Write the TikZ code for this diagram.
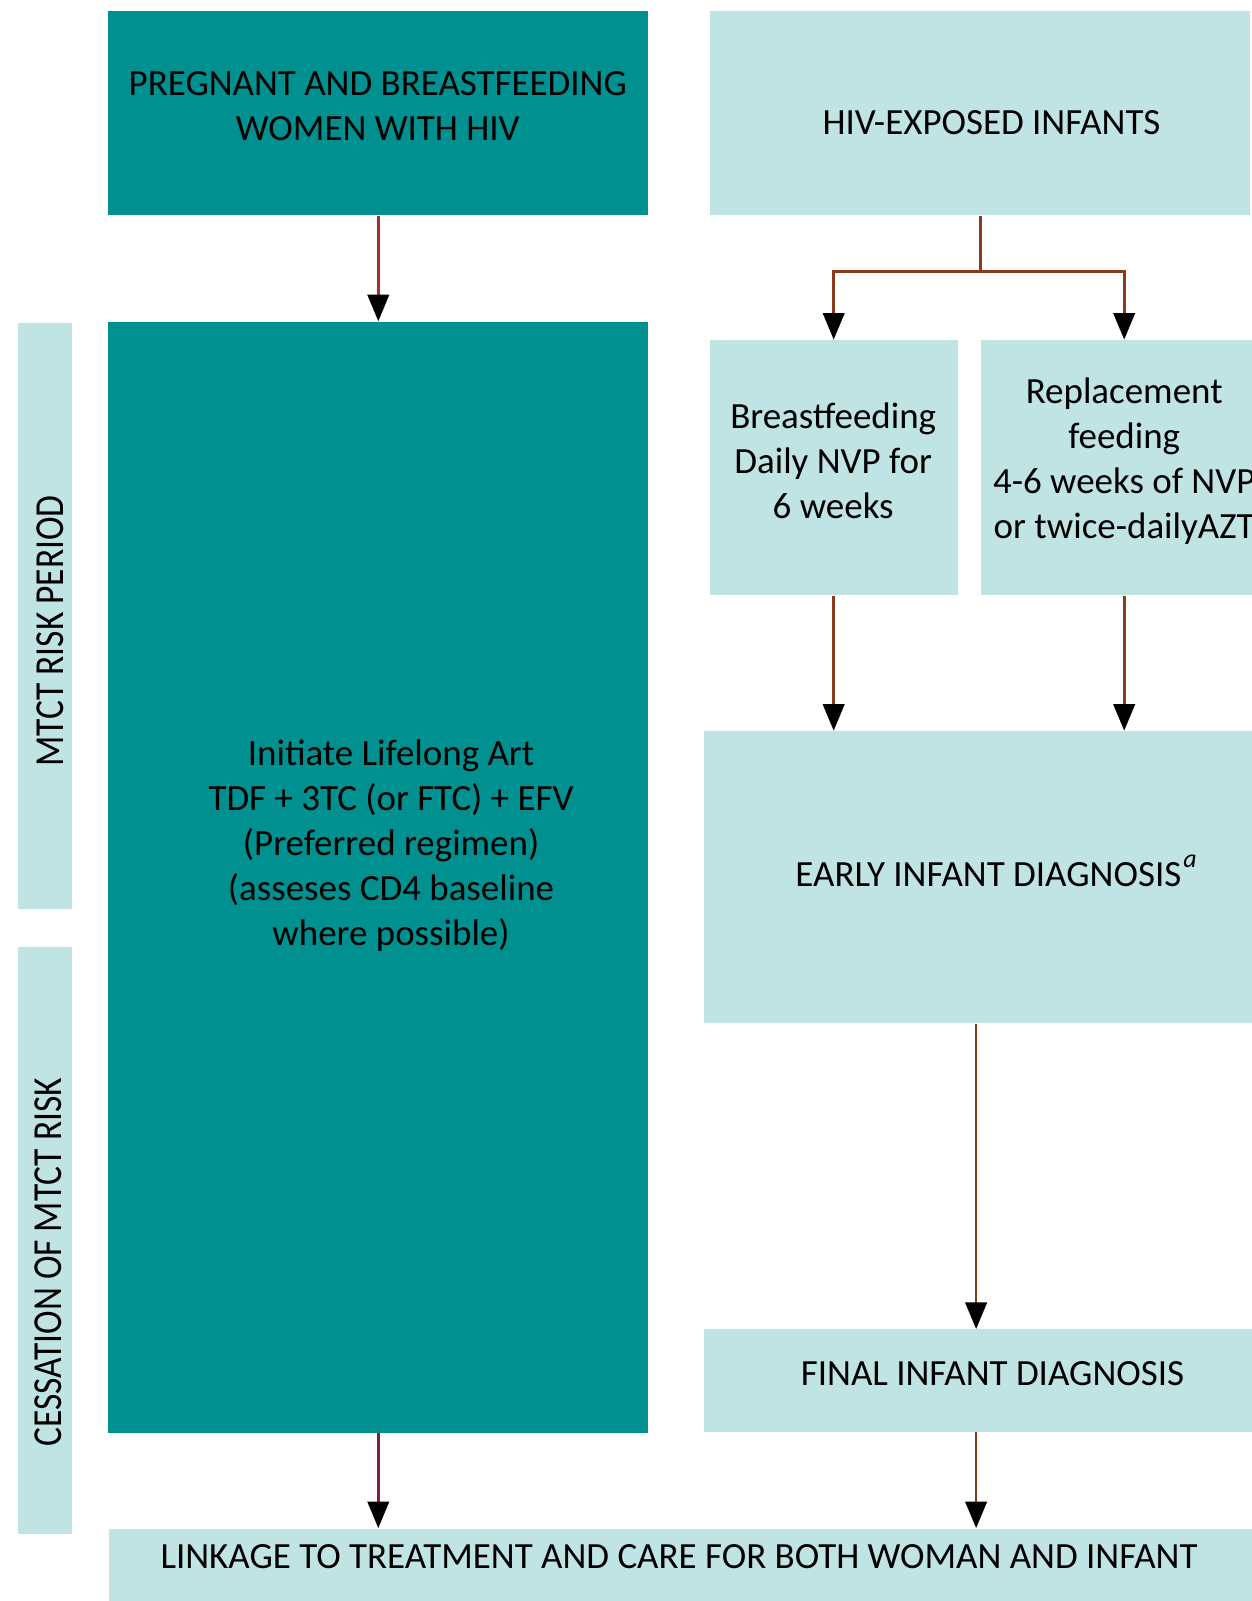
\documentclass[tikz,border=0pt]{standalone}
\usepackage{fontspec}
\setmainfont{Carlito}
\usetikzlibrary{arrows.meta,fit}
\definecolor{darkteal}{RGB}{0,144,144}
\definecolor{lightteal}{RGB}{192,228,228}
\definecolor{redline}{RGB}{165,48,42}
\definecolor{brownline}{RGB}{140,58,30}
\definecolor{maroonline}{RGB}{128,30,60}
\begin{document}
\begin{tikzpicture}[x=0.5pt,y=-0.5pt,
  darkbox/.style={fit={#1},inner sep=0pt,fill=darkteal,draw=none},
  lightbox/.style={fit={#1},inner sep=0pt,fill=lightteal,draw=none},
  txt/.style={align=center,inner sep=0pt,font=\fontsize{18.1}{22}\selectfont},
  sidetxt/.style={rotate=90,inner sep=0pt,font=\fontsize{20.2}{24}\selectfont},
  arr/.style={line width=1.3pt,-{Triangle[length=13pt,width=10.5pt,color=black]}},
  plain/.style={line width=1.3pt}]
\useasboundingbox (0,0) rectangle (1226,1568);
\clip (0,0) rectangle (1226,1568);
% boxes
\node[darkbox={(106,11) (635,211)}] (tl) {};
\node[lightbox={(695,11) (1224,211)}] (tr) {};
\node[darkbox={(106,315) (635,1403)}] (big) {};
\node[lightbox={(18,316) (71,890)}] (side1) {};
\node[lightbox={(18,927) (71,1502)}] (side2) {};
\node[lightbox={(695,333) (938,583)}] (bf) {};
\node[lightbox={(961,333) (1241,583)}] (rf) {};
\node[lightbox={(689,716) (1260,1002)}] (eid) {};
\node[lightbox={(689,1302) (1260,1402)}] (fin) {};
\node[lightbox={(107,1497) (1260,1590)}] (link) {};
% texts
\node[txt] (tltxt) at (370,104) {PREGNANT AND BREASTFEEDING\\WOMEN WITH HIV};
\node[txt] (trtxt) at (971,120) {HIV-EXPOSED INFANTS};
\node[txt] (bigtxt) at (383,828) {Initiate Lifelong Art\\TDF + 3TC (or FTC) + EFV\\(Preferred regimen)\\(asseses CD4 baseline\\where possible)};
\node[sidetxt] (s1txt) at (49,618) {\scalebox{0.86}[1]{MTCT RISK PERIOD}};
\node[sidetxt] (s2txt) at (47,1236) {\scalebox{0.86}[1]{CESSATION OF MTCT RISK}};
\node[txt] (bftxt) at (816,451) {Breastfeeding\\Daily NVP for\\6 weeks};
\node[txt] (rftxt) at (1101,452) {Replacement\\feeding\\4-6 weeks of NVP\\or twice-dailyAZT};
\node[txt] (eidtxt) at (976,853) {EARLY INFANT DIAGNOSIS\kern1pt\raisebox{0.15em}{\textsuperscript{\itshape a}}};
\node[txt] (fintxt) at (972,1345) {FINAL INFANT DIAGNOSIS};
\node[txt] (linktxt) at (665,1525) {LINKAGE TO TREATMENT AND CARE FOR BOTH WOMAN AND INFANT};
% connectors
\coordinate (split) at (960,266);
\coordinate (midx) at (956,0);
\draw[arr,redline] (tl.south) -- (tl.south |- big.north);
\draw[plain,brownline] (split |- tr.south) -- (split);
\draw[arr,brownline] (split) -| (bf.north);
\draw[arr,brownline] (split) -| (rf.north);
\draw[arr,brownline] (bf.south) -- (bf.south |- eid.north);
\draw[arr,brownline] (rf.south) -- (rf.south |- eid.north);
\draw[arr,brownline] (midx |- eid.south) -- (midx |- fin.north);
\draw[arr,brownline] (midx |- fin.south) -- (midx |- link.north);
\draw[arr,maroonline] (big.south) -- (big.south |- link.north);
\end{tikzpicture}
\end{document}
